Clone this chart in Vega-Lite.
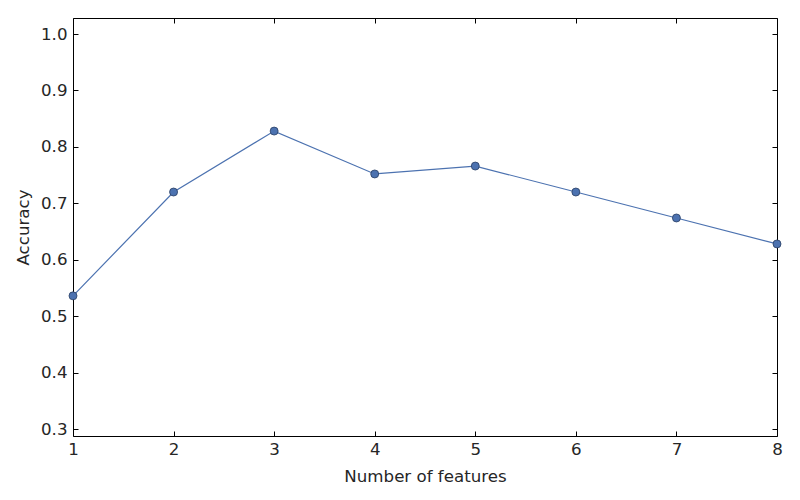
{
  "$schema": "https://vega.github.io/schema/vega-lite/v6.json",
  "autosize": "none",
  "width": 704,
  "height": 418,
  "padding": {"left": 73, "top": 18, "right": 23, "bottom": 64},
  "background": "white",
  "config": {
    "view": {"stroke": "black", "strokeWidth": 1},
    "axis": {
      "labelFont": "DejaVu Sans",
      "titleFont": "DejaVu Sans",
      "labelFontSize": 16.67,
      "titleFontSize": 16.67,
      "labelColor": "#262626",
      "titleColor": "#262626",
      "titleFontWeight": "normal",
      "labelFlush": false,
      "labelOverlap": false,
      "grid": false,
      "domain": false,
      "tickColor": "black",
      "tickSize": -5,
      "tickWidth": 1
    }
  },
  "data": {
    "values": [
      {"features": 1, "accuracy": 0.536},
      {"features": 2, "accuracy": 0.720},
      {"features": 3, "accuracy": 0.828},
      {"features": 4, "accuracy": 0.752},
      {"features": 5, "accuracy": 0.766},
      {"features": 6, "accuracy": 0.720},
      {"features": 7, "accuracy": 0.674},
      {"features": 8, "accuracy": 0.628}
    ]
  },
  "layer": [
    {
      "mark": {"type": "line", "color": "#4c72b0", "strokeWidth": 1.2, "clip": false},
      "encoding": {
        "x": {
          "field": "features", "type": "quantitative",
          "scale": {"domain": [1, 8], "nice": false},
          "axis": {"title": "Number of features", "values": [1, 2, 3, 4, 5, 6, 7, 8], "labelPadding": 10, "titlePadding": 11}
        },
        "y": {
          "field": "accuracy", "type": "quantitative",
          "scale": {"domain": [0.2876, 1.0284], "nice": false, "zero": false},
          "axis": {"title": "Accuracy", "values": [0.3, 0.4, 0.5, 0.6, 0.7, 0.8, 0.9, 1.0], "format": ".1f", "labelPadding": 11, "titlePadding": 8}
        }
      }
    },
    {
      "mark": {"type": "point", "filled": true, "color": "#4c72b0", "stroke": "#2a3f63", "strokeWidth": 0.8, "size": 64, "opacity": 1, "clip": false},
      "encoding": {
        "x": {"field": "features", "type": "quantitative", "scale": {"domain": [1, 8], "nice": false}, "axis": null},
        "y": {"field": "accuracy", "type": "quantitative", "scale": {"domain": [0.2876, 1.0284], "nice": false, "zero": false}, "axis": null}
      }
    },
    {
      "mark": {"type": "point", "opacity": 0},
      "encoding": {
        "x": {
          "field": "features", "type": "quantitative",
          "scale": {"domain": [1, 8], "nice": false},
          "axis": {"orient": "top", "title": null, "labels": false, "values": [1, 2, 3, 4, 5, 6, 7, 8]}
        },
        "y": {
          "field": "accuracy", "type": "quantitative",
          "scale": {"domain": [0.2876, 1.0284], "nice": false, "zero": false},
          "axis": {"orient": "right", "title": null, "labels": false, "values": [0.3, 0.4, 0.5, 0.6, 0.7, 0.8, 0.9, 1.0]}
        }
      }
    }
  ],
  "resolve": {
    "scale": {"x": "independent", "y": "independent"},
    "axis": {"x": "independent", "y": "independent"}
  }
}
